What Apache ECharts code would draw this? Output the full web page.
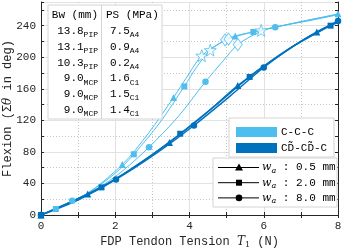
<!DOCTYPE html>
<html>
<head>
<meta charset="utf-8">
<script src="https://cdn.jsdelivr.net/npm/echarts@6/dist/echarts.min.js"></script>
<style>
html,body{margin:0;padding:0;background:#fff;}
#chart{width:342px;height:250px;}
</style>
</head>
<body>
<div id="chart"></div>
<script>
// ---- axis ticks ----
const xTicks = [0, 2, 4, 6, 8];
const yTicks = [0, 40, 80, 120, 160, 200, 240];
const yMax = 270;

// ---- C-C-C (light blue) ----
const ccc05_T = [0, 1.2, 2.19, 2.9, 3.57, 4.0, 4.33, 4.96, 5.23, 6.0, 7.0, 8.0];
const ccc05_F = [0, 26, 64, 104, 149, 180, 202, 222, 227, 235, 245, 255];
const ccc05_mark = [0, 2, 4, 8, 11];

const ccc20_T = [0, 0.40, 1.2, 2.0, 2.50, 3.2, 3.86, 4.2, 4.56, 5.05, 5.72, 6.5, 7.3, 8.0];
const ccc20_F = [0, 7.6, 26, 53, 77, 117, 163, 188, 209, 223, 232, 240, 247, 254];
const ccc20_mark = [0, 1, 4, 6, 10];

const ccc80_T = [0, 0.84, 1.6, 2.2, 2.91, 3.7, 4.43, 4.9, 5.30, 5.93, 6.31, 7.2, 8.0];
const ccc80_F = [0, 18, 36, 56, 86, 125, 169, 195, 216, 233, 238, 247, 254];
const ccc80_mark = [0, 1, 4, 6, 10];

// ---- CD~-CD~-C (dark blue) ----
const cdd05_T = [0, 1.26, 2.4, 3.46, 4.4, 5.30, 6.4, 7.43, 8.0];
const cdd05_F = [0, 26.5, 57, 92, 127, 164, 202, 232, 245];
const cdd05_mark = [0, 1, 3, 5, 7];

const cdd20_T = [0, 1.63, 2.7, 3.75, 4.7, 5.62, 6.7, 7.8, 8.0];
const cdd20_F = [0, 35, 67, 103, 139, 175, 211, 240, 244];
const cdd20_mark = [0, 1, 3, 5, 7];

const cdd80_T = [0, 1.0, 2.02, 3.1, 4.12, 5.1, 6.0, 7.0, 8.0];
const cdd80_F = [0, 19, 45, 78, 113.5, 151, 187, 220, 246];
const cdd80_mark = [0, 2, 4, 6, 8];

// ---- joint events (hollow markers) ----
const pip_T = [4.33, 4.56, 5.93];
const pip_F = [202, 209, 234];
const mcp_T = [4.96, 5.05, 5.30];
const mcp_F = [222, 223, 216];

// ---- table ----
const tblBw = ['13.8', '13.1', '10.3', '9.0', '9.0', '9.0'];
const tblBwSub = ['PIP', 'PIP', 'PIP', 'MCP', 'MCP', 'MCP'];
const tblPS = ['7.5', '0.9', '0.2', '1.6', '1.5', '1.4'];
const tblPSSub = ['A4', 'A4', 'A4', 'C1', 'C1', 'C1'];

// ---- legends ----
const groupNames = ['C-C-C', 'CD\u0303-CD\u0303-C'];
const waLabels = ['0.5', '2.0', '8.0'];
const waSymbols = ['triangle', 'rect', 'circle'];

const LIGHT = '#4DBEEE';
const DARK = '#0072BD';
const AX = '#262626';
const FONT = '"Liberation Mono", "DejaVu Sans Mono", monospace';
const STAR = 'path://M0,-10 L2.35,-3.24 L9.51,-3.09 L3.8,1.24 L5.88,8.09 L0,4 L-5.88,8.09 L-3.8,1.24 L-9.51,-3.09 L-2.35,-3.24 Z';

function build(T, F, marks) {
  return T.map((t, i) => marks.indexOf(i) >= 0 ? { value: [t, F[i]] } : { value: [t, F[i]], symbol: 'none' });
}
function lineSeries(T, F, marks, color, sym, size, width) {
  return {
    type: 'line', data: build(T, F, marks), symbol: sym, symbolSize: size,
    showAllSymbol: true, smooth: 0.3, lineStyle: { color: color, width: width },
    itemStyle: { color: color }, z: 3, silent: true, animation: false
  };
}

const series = [
  lineSeries(ccc05_T, ccc05_F, ccc05_mark, LIGHT, 'triangle', 7, 1),
  lineSeries(ccc20_T, ccc20_F, ccc20_mark, LIGHT, 'rect', 6, 1),
  lineSeries(ccc80_T, ccc80_F, ccc80_mark, LIGHT, 'circle', 6.5, 1),
  lineSeries(cdd05_T, cdd05_F, cdd05_mark, DARK, 'triangle', 7, 1.4),
  lineSeries(cdd20_T, cdd20_F, cdd20_mark, DARK, 'rect', 6, 1.4),
  lineSeries(cdd80_T, cdd80_F, cdd80_mark, DARK, 'circle', 6.5, 1.4),
  { type: 'scatter', data: pip_T.map((t, i) => [t, pip_F[i]]), symbol: STAR, symbolSize: 12,
    itemStyle: { color: '#fff', borderColor: LIGHT, borderWidth: 1 }, z: 4, silent: true, animation: false },
  { type: 'scatter', data: mcp_T.map((t, i) => [t, mcp_F[i]]), symbol: 'diamond', symbolSize: [9, 12],
    itemStyle: { color: '#fff', borderColor: LIGHT, borderWidth: 1 }, z: 4, silent: true, animation: false }
];

// graphics: table
const graphics = [];
graphics.push({ type: 'rect', shape: { x: 48, y: 5, width: 114, height: 114 },
  style: { fill: '#fff', stroke: '#d4d4d4', lineWidth: 1 }, z: 100 });
graphics.push({ type: 'line', shape: { x1: 101.5, y1: 5, x2: 101.5, y2: 119 },
  style: { stroke: '#d4d4d4', lineWidth: 1 }, z: 101 });
const rich = {
  m: { fontFamily: FONT, fontSize: 11, lineHeight: 16, fill: '#000', verticalAlign: 'middle' },
  s: { fontFamily: FONT, fontSize: 8, fill: '#000', verticalAlign: 'bottom' }
};
graphics.push({ type: 'text', x: 98, y: 15, z: 102,
  style: { text: '{m|Bw (mm)}', rich: rich, align: 'right', verticalAlign: 'middle' } });
graphics.push({ type: 'text', x: 106, y: 15, z: 102,
  style: { text: '{m|PS (MPa)}', rich: rich, align: 'left', verticalAlign: 'middle' } });
for (let i = 0; i < tblBw.length; i++) {
  const y = 31 + i * 15.8;
  graphics.push({ type: 'text', x: 98, y: y, z: 102,
    style: { text: '{m|' + tblBw[i] + '}{s|' + tblBwSub[i] + '}', rich: rich, align: 'right', verticalAlign: 'middle' } });
  graphics.push({ type: 'text', x: 110, y: y, z: 102,
    style: { text: '{m|' + tblPS[i] + '}{s|' + tblPSSub[i] + '}', rich: rich, align: 'left', verticalAlign: 'middle' } });
}
// legend 1: colour groups
graphics.push({ type: 'rect', shape: { x: 229, y: 118, width: 105, height: 39 },
  style: { fill: '#fff', stroke: '#d4d4d4', lineWidth: 1 }, z: 100 });
[LIGHT, DARK].forEach((c, i) => {
  const y = 127 + i * 16;
  graphics.push({ type: 'rect', shape: { x: 236, y: y, width: 41, height: 10 }, style: { fill: c }, z: 101 });
  graphics.push({ type: 'text', x: 281, y: y + 5, z: 102,
    style: { text: groupNames[i], fontFamily: FONT, fontSize: 11, fill: '#000', align: 'left', verticalAlign: 'middle' } });
});
// legend 2: w_a markers
graphics.push({ type: 'rect', shape: { x: 213, y: 158, width: 124, height: 49 },
  style: { fill: '#fff', stroke: '#d4d4d4', lineWidth: 1 }, z: 100 });
const rich2 = {
  i: { fontFamily: '"DejaVu Serif", "Liberation Serif", serif', fontStyle: 'italic', fontSize: 11, fill: '#000', lineHeight: 14, verticalAlign: 'middle' },
  s: { fontFamily: '"DejaVu Serif", "Liberation Serif", serif', fontStyle: 'italic', fontSize: 8, fill: '#000', verticalAlign: 'bottom' },
  t: { fontFamily: FONT, fontSize: 11, fill: '#000', lineHeight: 14, verticalAlign: 'middle' }
};
waLabels.forEach((w, i) => {
  const y = 167.5 + i * 15.2;
  graphics.push({ type: 'line', shape: { x1: 218, y1: y, x2: 259, y2: y }, style: { stroke: '#000', lineWidth: 1 }, z: 101 });
  let shape;
  if (waSymbols[i] === 'triangle') shape = { type: 'polygon', shape: { points: [[239, y - 4], [243, y + 3], [235, y + 3]] }, style: { fill: '#000' }, z: 102 };
  else if (waSymbols[i] === 'rect') shape = { type: 'rect', shape: { x: 236, y: y - 3, width: 6, height: 6 }, style: { fill: '#000' }, z: 102 };
  else shape = { type: 'circle', shape: { cx: 239, cy: y, r: 3.3 }, style: { fill: '#000' }, z: 102 };
  graphics.push(shape);
  graphics.push({ type: 'text', x: 262, y: y, z: 102,
    style: { text: '{i|w}{s|a}{t| : ' + w + ' mm}', rich: rich2, align: 'left', verticalAlign: 'middle' } });
});

const chart = echarts.init(document.getElementById('chart'), null, { renderer: 'canvas' });
const tickLine = { color: AX, width: 1 };
chart.setOption({
  animation: false,
  backgroundColor: '#fff',
  grid: { left: 41, right: 4, top: 2, bottom: 35, containLabel: false, outerBoundsMode: 'none' },
  xAxis: [
    {
      type: 'value', min: xTicks[0], max: xTicks[xTicks.length - 1], interval: xTicks[1] - xTicks[0], position: 'bottom',
      axisLine: { show: true, lineStyle: tickLine },
      axisTick: { show: true, inside: true, length: 3, lineStyle: tickLine },
      minorTick: { show: true, splitNumber: 2, length: 3, lineStyle: tickLine },
      axisLabel: { fontFamily: FONT, fontSize: 11, color: AX, margin: 6 },
      splitLine: { show: true, lineStyle: { color: '#e2e2e2', width: 1 } },
      minorSplitLine: { show: true, lineStyle: { color: '#c4c4c4', width: 1, type: [1, 2] } },
      name: '{a|FDP Tendon Tension }{i|T}{s|1}{a| (N)}', nameLocation: 'middle', nameGap: 20, nameMoveOverlap: false,
      nameTextStyle: { rich: {
        a: { fontFamily: FONT, fontSize: 12, color: AX },
        i: { fontFamily: '"DejaVu Serif", serif', fontStyle: 'italic', fontSize: 12, color: AX },
        s: { fontFamily: '"DejaVu Serif", serif', fontSize: 8, color: AX, verticalAlign: 'bottom', padding: [6, 0, 0, 0] }
      } }
    },
    {
      type: 'value', min: xTicks[0], max: xTicks[xTicks.length - 1], interval: xTicks[1] - xTicks[0], position: 'top',
      axisLine: { show: true, lineStyle: tickLine },
      axisTick: { show: true, inside: true, length: 3, lineStyle: tickLine },
      minorTick: { show: true, splitNumber: 2, length: 3, lineStyle: tickLine },
      axisLabel: { show: false }, splitLine: { show: false }
    }
  ],
  yAxis: [
    {
      type: 'value', min: 0, max: yMax, interval: yTicks[1] - yTicks[0], position: 'left',
      axisLine: { show: true, lineStyle: tickLine },
      axisTick: { show: false },
      axisLabel: { fontFamily: FONT, fontSize: 11, color: AX, margin: 5,
        formatter: v => (yTicks.indexOf(v) >= 0 ? String(v) : '') },
      splitLine: { show: true, lineStyle: { color: '#e2e2e2', width: 1 } },
      name: '{a|Flexion (\u03A3}{i|\u03B8}{a| in deg)}', nameLocation: 'middle', nameGap: 27, nameMoveOverlap: false,
      nameTextStyle: { rich: {
        a: { fontFamily: FONT, fontSize: 12, color: AX },
        i: { fontFamily: '"DejaVu Serif", serif', fontStyle: 'italic', fontSize: 12, color: AX }
      } }
    },
    {
      type: 'value', min: 0, max: yMax, interval: (yTicks[1] - yTicks[0]) / 2, position: 'left',
      axisLine: { show: false },
      axisTick: { show: true, inside: true, length: 3, lineStyle: tickLine },
      axisLabel: { show: false },
      splitLine: { show: true, lineStyle: { color: ['rgba(0,0,0,0)', '#c4c4c4'], width: 1, type: [1, 2] } }
    },
    {
      type: 'value', min: 0, max: yMax, interval: (yTicks[1] - yTicks[0]) / 2, position: 'right',
      axisLine: { show: true, lineStyle: tickLine },
      axisTick: { show: true, inside: true, length: 3, lineStyle: tickLine },
      axisLabel: { show: false }, splitLine: { show: false }
    }
  ],
  series: series,
  graphic: graphics
});
</script>
</body>
</html>
